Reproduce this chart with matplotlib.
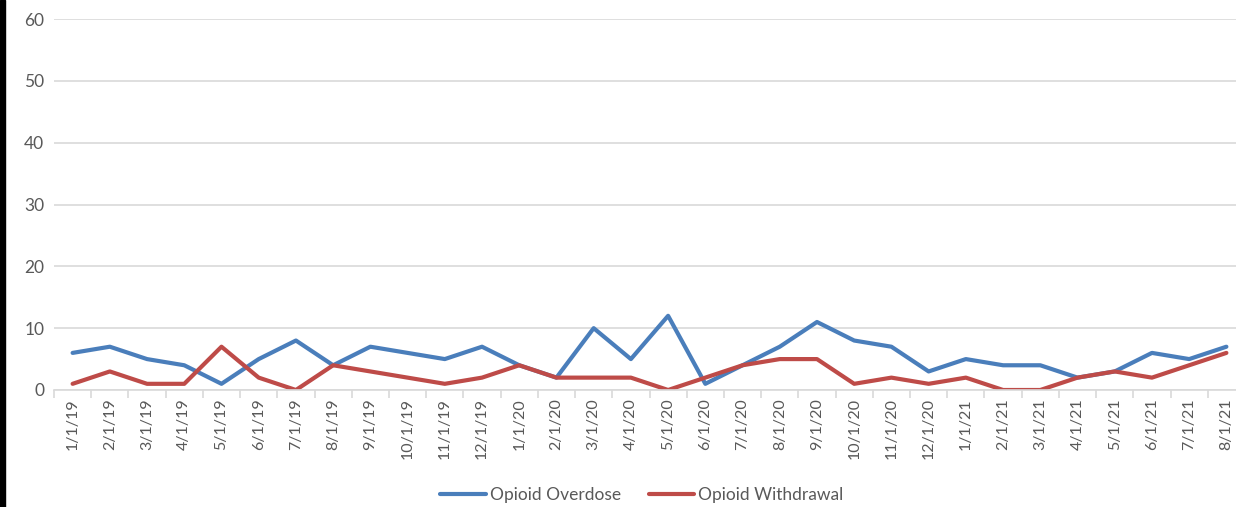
import matplotlib
matplotlib.use("Agg")
import matplotlib.pyplot as plt
from matplotlib.patches import Rectangle
import numpy as np

months = ["1/1/19","2/1/19","3/1/19","4/1/19","5/1/19","6/1/19","7/1/19","8/1/19","9/1/19","10/1/19","11/1/19","12/1/19",
          "1/1/20","2/1/20","3/1/20","4/1/20","5/1/20","6/1/20","7/1/20","8/1/20","9/1/20","10/1/20","11/1/20","12/1/20",
          "1/1/21","2/1/21","3/1/21","4/1/21","5/1/21","6/1/21","7/1/21","8/1/21"]
overdose = [6,7,5,4,1,5,8,4,7,6,5,7,4,2,10,5,12,1,4,7,11,8,7,3,5,4,4,2,3,6,5,7]
withdrawal = [1,3,1,1,7,2,0,4,3,2,1,2,4,2,2,2,0,2,4,5,5,1,2,1,2,0,0,2,3,2,4,6]
yticks = [0,10,20,30,40,50,60]

plt.rcParams['font.family'] = ['Lato', 'DejaVu Sans']
W, H = 1236, 507
fig = plt.figure(figsize=(W/100, H/100), dpi=100)
fig.patches.append(Rectangle((0, 0), 5/W, 1, transform=fig.transFigure, color='black', zorder=10))

ax = fig.add_axes([54/W, (H-390)/H, 1191/W, 371/H])
x = np.arange(len(months))
l1, = ax.plot(x, overdose, color='#4A7EBB', lw=3, solid_capstyle='round', solid_joinstyle='round', label='Opioid Overdose')
l2, = ax.plot(x, withdrawal, color='#BE4B48', lw=3, solid_capstyle='round', solid_joinstyle='round', label='Opioid Withdrawal')

ax.set_xlim(-0.5, len(months)-0.5)
ax.set_ylim(0, 60)
ax.set_yticks(yticks)
ax.set_yticklabels([str(v) for v in yticks])
ax.yaxis.grid(True, color='#D9D9D9', lw=1.2)
ax.set_axisbelow(True)
for s in ['top','right','left']:
    ax.spines[s].set_visible(False)
ax.spines['bottom'].set_color('#D9D9D9')
ax.spines['bottom'].set_linewidth(1.2)
ax.tick_params(axis='y', length=0, pad=7, labelsize=12.5, labelcolor='#595959')
ax.set_xticks(x)
ax.set_xticklabels(months, rotation=90)
ax.tick_params(axis='x', which='major', length=0, pad=6, labelsize=11.5, labelcolor='#595959')
ax.set_xticks(np.arange(-0.5, len(months), 1), minor=True)
ax.tick_params(axis='x', which='minor', length=6, color='#D9D9D9', width=1.2)

fig.legend(handles=[l1, l2], loc='center', bbox_to_anchor=(642/W, (H-495)/H), ncol=2, frameon=False,
           fontsize=12.5, labelcolor='#595959', handlelength=2.6, handletextpad=0.25, columnspacing=1.6)
fig.savefig('out.png', dpi=100)
